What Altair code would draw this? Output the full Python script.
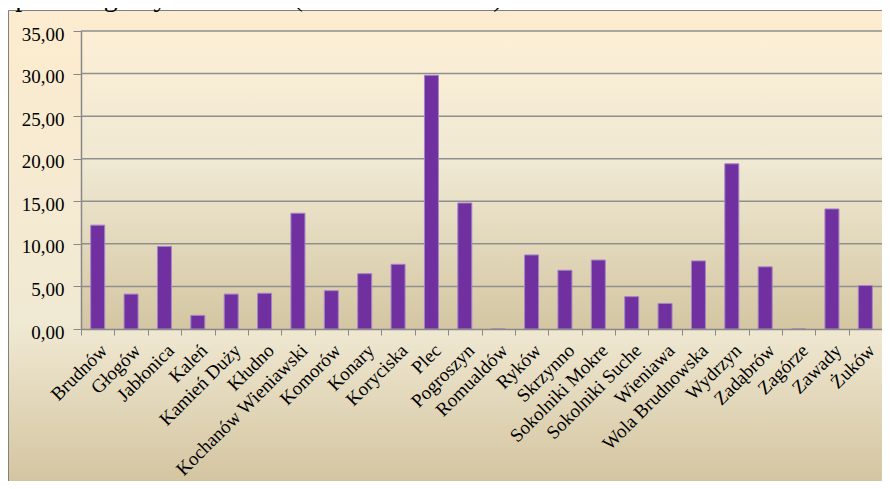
import altair as alt
import pandas as pd

categories = ["Brudnów", "Głogów", "Jabłonica", "Kaleń", "Kamień Duży", "Kłudno",
              "Kochanów Wieniawski", "Komorów", "Konary", "Koryciska", "Plec",
              "Pogroszyn", "Romualdów", "Ryków", "Skrzynno", "Sokolniki Mokre",
              "Sokolniki Suche", "Wieniawa", "Wola Brudnowska", "Wydrzyn",
              "Zadąbrów", "Zagórze", "Zawady", "Żuków"]
values = [12.2, 4.1, 9.7, 1.6, 4.1, 4.2,
          13.6, 4.5, 6.5, 7.6, 29.8,
          14.8, 0.0, 8.7, 6.9, 8.1,
          3.8, 3.0, 8.0, 19.4,
          7.3, 0.0, 14.1, 5.1]
y_ticks = [0, 5, 10, 15, 20, 25, 30, 35]
title_text = "w poszczególnych sołectw (GOPS Wieniawa)"

W, H = 801, 298
FONT = "Liberation Serif"

df = pd.DataFrame({"cat": categories, "value": values})
grid_df = pd.DataFrame({"v": y_ticks[1:]})
one = pd.DataFrame({"a": [0]})

yscale = alt.Scale(domain=[0, 35], nice=False, zero=True)
xscale = alt.Scale(paddingInner=0, paddingOuter=0)

outer = alt.Chart(one).mark_rect(
    stroke="#808080", strokeWidth=1,
    fill=alt.Gradient(gradient="linear", x1=0, x2=0, y1=0, y2=1, stops=[
        alt.GradientStop(color="#fdeccf", offset=0),
        alt.GradientStop(color="#f0e9d3", offset=0.66),
        alt.GradientStop(color="#d4c5a1", offset=1)])
).encode(x=alt.value(-72.5), x2=alt.value(830), y=alt.value(-20.5), y2=alt.value(452))

plotbg = alt.Chart(one).mark_rect(
    fill=alt.Gradient(gradient="linear", x1=0, x2=0, y1=0, y2=1, stops=[
        alt.GradientStop(color="#fdefd6", offset=0),
        alt.GradientStop(color="#efe8d2", offset=0.45),
        alt.GradientStop(color="#d4c6a2", offset=1)])
).encode(x=alt.value(0), x2=alt.value(W), y=alt.value(0), y2=alt.value(H))

yaxis = alt.Axis(values=y_ticks, grid=False, zindex=1,
                 labelExpr="replace(format(datum.value, '.2f'), '.', ',')",
                 labelFont=FONT, labelFontSize=19, labelColor="#000000",
                 tickSize=8, tickColor="#888888", domainColor="#888888",
                 domainWidth=1.5, labelPadding=9, labelBaseline="middle",
                 labelOffset=3)

grid = alt.Chart(grid_df).mark_rule(color="#8f8f8f", strokeWidth=1.5).encode(
    y=alt.Y("v:Q", scale=yscale, axis=yaxis, title=None),
    x=alt.value(0), x2=alt.value(W))

bars = alt.Chart(df).mark_bar(size=14, color="#7030a0", stroke="#a385c6", strokeWidth=1).encode(
    x=alt.X("cat:N", sort=categories, scale=xscale, title=None,
            axis=alt.Axis(labelAngle=-45, labelAlign="right", labelBaseline="middle",
                          labelFont=FONT, labelFontSize=19, labelColor="#000000",
                          tickBand="extent", tickSize=6, tickColor="#888888",
                          domainColor="#888888", domainWidth=1.5, labelPadding=12,
                          labelOffset=6, labelLimit=400, labelOverlap=False,
                          grid=False, zindex=1)),
    y=alt.Y("value:Q", scale=yscale, title=None, axis=yaxis))

title = alt.Chart(one).mark_text(
    align="left", baseline="alphabetic", font=FONT, fontSize=28, color="#000000"
).encode(x=alt.value(-93), y=alt.value(-25), text=alt.value(title_text))

chart = alt.layer(outer, plotbg, grid, bars, title).properties(
    width=W, height=H,
    autosize=alt.AutoSizeParams(type="none"),
    padding={"left": 73, "top": 23, "right": 0, "bottom": 152},
).configure_view(stroke=None)

chart.save("out.html", embed_options={"renderer": "svg", "actions": False})
